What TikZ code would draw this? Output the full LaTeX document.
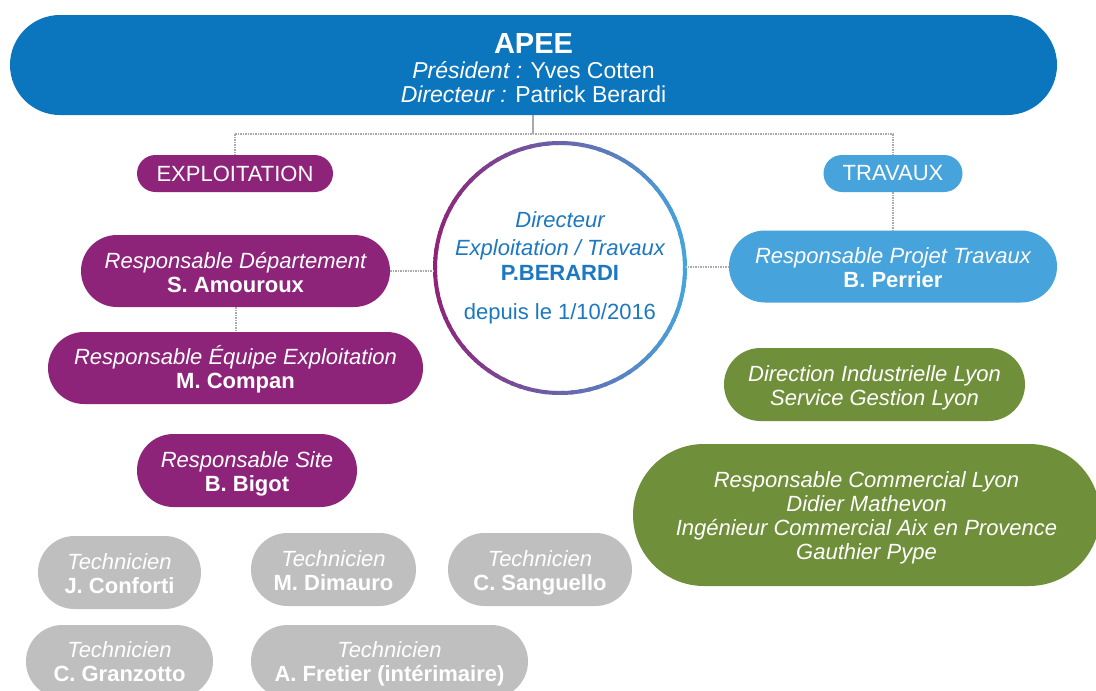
\documentclass[tikz,border=0pt]{standalone}
\usepackage{fontspec}
\setmainfont{Liberation Sans}
\usetikzlibrary{shapes.misc}
\definecolor{apeeblue}{RGB}{11,117,189}
\definecolor{purp}{RGB}{142,36,122}
\definecolor{lblue}{RGB}{70,163,219}
\definecolor{mygreen}{RGB}{112,143,58}
\definecolor{tgray}{RGB}{191,191,191}
\definecolor{lgray}{RGB}{170,170,170}
\definecolor{txtblue}{RGB}{28,120,192}
\newcommand{\lw}[2]{\raisebox{-#1}[\height][\depth]{\begin{tabular}{@{}c@{}}#2\end{tabular}}}
\tikzset{
  pill/.style={rounded rectangle, inner sep=0pt, align=center, text=white,
    font=\fontsize{22}{24}\selectfont},
  purppill/.style={pill, fill=purp},
  bluepill/.style={pill, fill=lblue},
  greenpill/.style={pill, fill=mygreen},
  graypill/.style={pill, fill=tgray},
  link/.style={draw=lgray, line width=2pt, dash pattern=on 1.5pt off 1pt},
  stem/.style={draw=lgray, line width=1.5pt}
}
\begin{document}
\begin{tikzpicture}[x=1pt,y=-1pt]
\useasboundingbox (0,0) rectangle (1096,691);
\clip (0,0) rectangle (1096,691);
\fill[white] (0,0) rectangle (1096,691);

% top box
\node[pill, fill=apeeblue, minimum width=1047pt, minimum height=100pt,
      font=\fontsize{23}{24}\selectfont] (apee) at (533.5,65)
  {\lw{7pt}{{\fontsize{29}{30}\selectfont\bfseries APEE}\\[1pt]
   {\itshape Président :} Yves Cotten\\
   {\itshape Directeur :} Patrick Berardi}};

% categories
\node[purppill, minimum width=196pt, minimum height=37pt] (expl) at (235,173.5) {EXPLOITATION};
\node[bluepill, minimum width=139pt, minimum height=37pt] (trav) at (893,173.5) {TRAVAUX};

% central circle
\node[circle, minimum size=250pt, inner sep=0pt, align=center, text=txtblue,
      font=\fontsize{22}{24}\selectfont] (dir) at (560,268)
  {{\itshape Directeur}\\[4pt]
   {\itshape Exploitation / Travaux}\\[1pt]
   \textbf{P.BERARDI}\\[15pt]
   depuis le 1/10/2016};
\foreach \a in {0,4,...,356}{
  \pgfmathsetmacro\p{50*(1-cos(\a+2))}
  \draw[line width=4pt, draw=purp!\p!lblue] (dir.center) ++(\a:125)
    arc[start angle=\a, end angle=\a+5, radius=125];
}

% exploitation side
\node[purppill, minimum width=309pt, minimum height=72pt] (dept) at (235.5,271)
  {\lw{4.5pt}{{\itshape Responsable Département}\\\textbf{S. Amouroux}}};
\node[purppill, minimum width=375pt, minimum height=72pt] (equipe) at (235.5,368)
  {\lw{3pt}{{\itshape Responsable Équipe Exploitation}\\\textbf{M. Compan}}};
\node[purppill, minimum width=220pt, minimum height=73pt] (site) at (247,470.5)
  {\lw{4pt}{{\itshape Responsable Site}\\\textbf{B. Bigot}}};

% travaux side
\node[bluepill, minimum width=328pt, minimum height=72pt] (projet) at (893,266.5)
  {\lw{4.5pt}{{\itshape Responsable Projet Travaux}\\\textbf{B. Perrier}}};
\node[greenpill, minimum width=301pt, minimum height=73pt, font=\itshape\fontsize{22}{24}\selectfont] (dirind) at (874.5,384.5)
  {\lw{4.5pt}{Direction Industrielle Lyon\\Service Gestion Lyon}};
\node[greenpill, minimum width=467pt, minimum height=142pt, font=\itshape\fontsize{22}{24}\selectfont] (comm) at (866.5,515)
  {\lw{3.5pt}{Responsable Commercial Lyon\\Didier Mathevon\\Ingénieur Commercial Aix en Provence\\Gauthier Pype}};

% technicians
\node[graypill, minimum width=163pt, minimum height=73pt] (t1) at (119.5,572.5)
  {\lw{4.5pt}{{\itshape Technicien}\\\textbf{J. Conforti}}};
\node[graypill, minimum width=165pt, minimum height=73pt] (t2) at (333.5,569.5)
  {\lw{4pt}{{\itshape Technicien}\\\textbf{M. Dimauro}}};
\node[graypill, minimum width=184pt, minimum height=73pt] (t3) at (540,569.5)
  {\lw{4.5pt}{{\itshape Technicien}\\\textbf{C. Sanguello}}};
\node[graypill, minimum width=187pt, minimum height=73pt] (t4) at (119.5,661.5)
  {\lw{3pt}{{\itshape Technicien}\\\textbf{C. Granzotto}}};
\node[graypill, minimum width=277pt, minimum height=73pt] (t5) at (389.5,661.5)
  {\lw{3pt}{{\itshape Technicien}\\\textbf{A. Fretier (intérimaire)}}};

% connectors
\coordinate (j) at (533,134);
\coordinate (jl) at (expl.north |- j);
\coordinate (jr) at (trav.north |- j);
\draw[stem] (apee.south -| j) -- (j);
\draw[link] (jl) -- (jr);
\draw[link] (jl) -- (expl.north);
\draw[link] (jr) -- (trav.north);
\draw[link] (trav.south) -- (trav.south |- projet.north);
\draw[link] (dept.south) -- (equipe.north);
\draw[link] (dept.east) -- (dept.east -| dir.west);
\draw[link] (dir.east |- projet.west) -- (projet.west);
\end{tikzpicture}
\end{document}
